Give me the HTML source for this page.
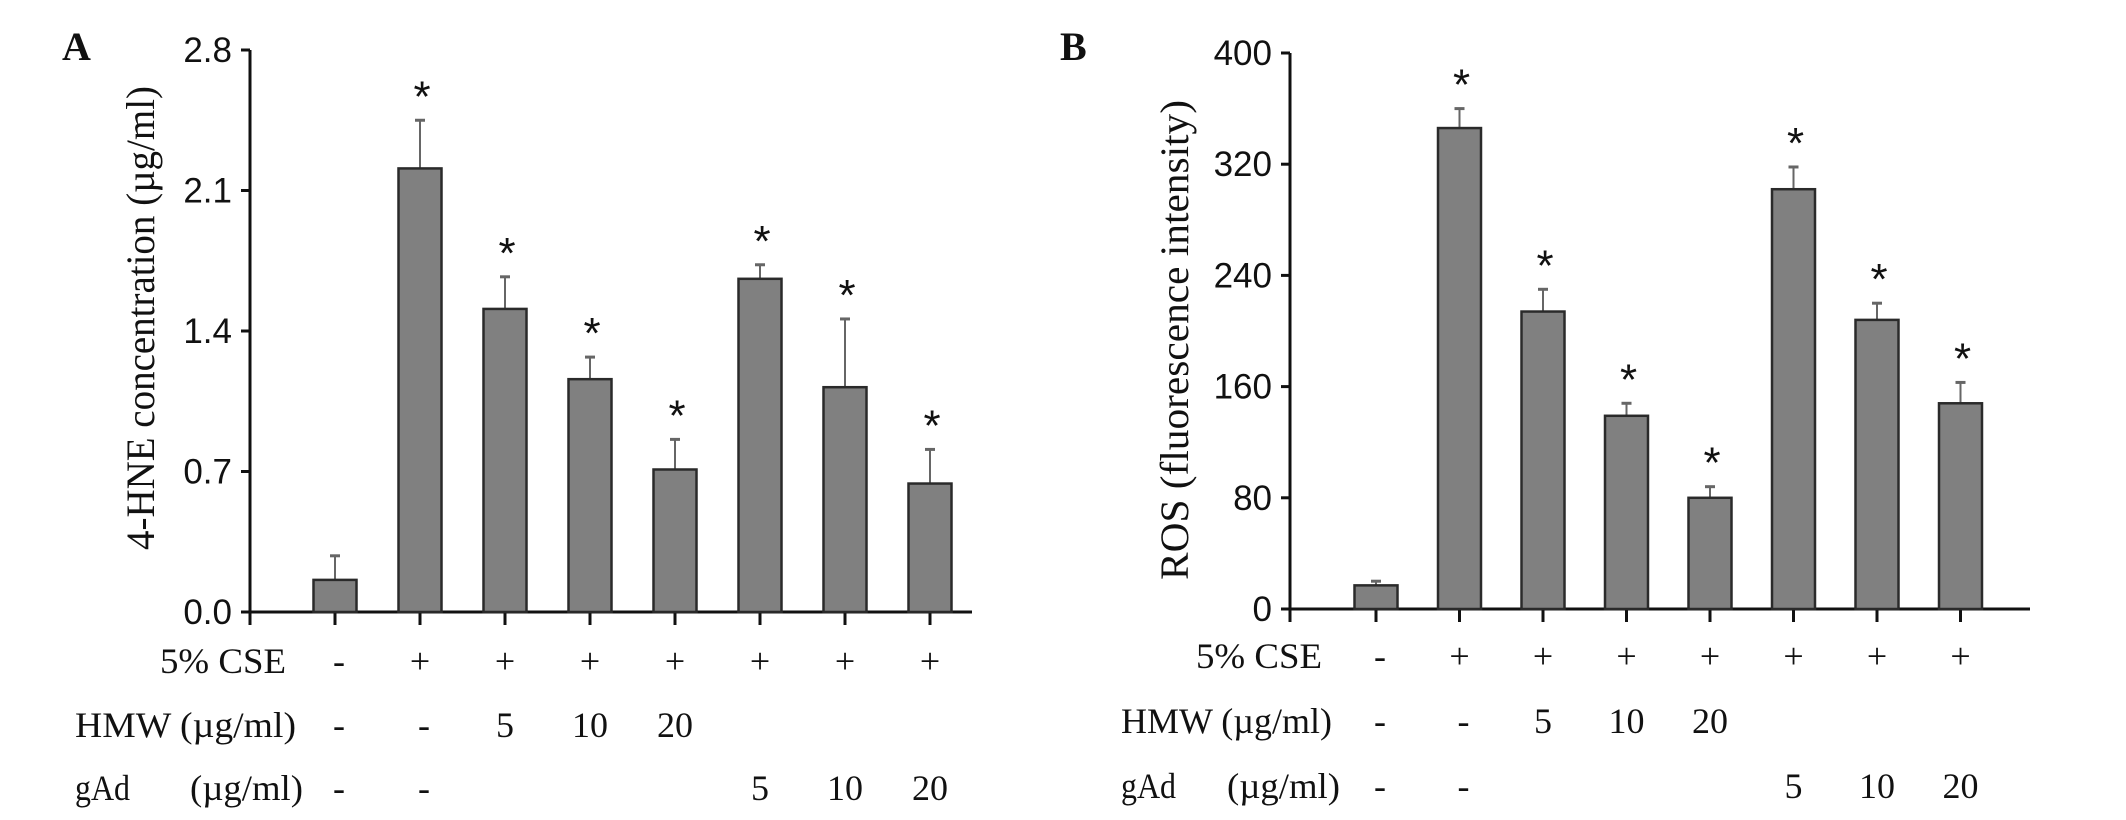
<!DOCTYPE html>
<html><head><meta charset="utf-8">
<style>
html,body{margin:0;padding:0;background:#fff;}
svg{display:block;}
.serif{font-family:"Liberation Serif",serif;fill:#111;}
.sans{font-family:"Liberation Sans",sans-serif;fill:#111;}
</style></head>
<body>
<svg id="chart" width="2126" height="820" viewBox="0 0 2126 820" xmlns="http://www.w3.org/2000/svg">
<rect width="2126" height="820" fill="#fff"/>
</svg>
<script>
const categories = ["control","CSE","CSE+HMW5","CSE+HMW10","CSE+HMW20","CSE+gAd5","CSE+gAd10","CSE+gAd20"];
const valuesA = [0.16, 2.21, 1.51, 1.16, 0.71, 1.66, 1.12, 0.64];
const errTopA = [0.28, 2.45, 1.67, 1.27, 0.86, 1.73, 1.46, 0.81];
const valuesB = [17, 346, 214, 139, 80, 302, 208, 148];
const errTopB = [20, 360, 230, 148, 88, 318, 220, 163];
const sigFlags = [false, true, true, true, true, true, true, true];
const ticksA = [0.0, 0.7, 1.4, 2.1, 2.8];
const tickLabelsA = ["0.0","0.7","1.4","2.1","2.8"];
const ticksB = [0, 80, 160, 240, 320, 400];
const tickLabelsB = ["0","80","160","240","320","400"];
const cseRow = ["-","+","+","+","+","+","+","+"];
const hmwRow = ["-","-","5","10","20","","",""];
const gadRow = ["-","-","","","","5","10","20"];

const NS="http://www.w3.org/2000/svg";
const svg=document.getElementById('chart');
function mk(tag,attrs,parent,text){const e=document.createElementNS(NS,tag);for(const k in attrs)e.setAttribute(k,attrs[k]);if(text!==undefined)e.textContent=text;(parent||svg).appendChild(e);return e;}

function panel(cfg){
  const g=mk('g',{});
  
  
  const y=v=>cfg.y0-(v-cfg.min)/(cfg.max-cfg.min)*(cfg.y0-cfg.yTop);
  const x=i=>cfg.x1+i*cfg.step;
  const ax=mk('line',{x1:cfg.ax,y1:cfg.yTop,x2:cfg.ax,y2:cfg.y0+13,stroke:'#111','stroke-width':3},g);
  
  
  const bl=mk('line',{x1:cfg.ax-8,y1:cfg.y0,x2:cfg.xEnd,y2:cfg.y0,stroke:'#111','stroke-width':3},g);
  
  
  cfg.ticks.forEach((t,i)=>{
    const tk=mk('line',{x1:cfg.ax-9,y1:y(t),x2:cfg.ax,y2:y(t),stroke:'#111','stroke-width':3},g);
    
    
    const tl=mk('text',{x:cfg.ax-18,y:y(t)+12,'text-anchor':'end','font-size':35,class:'sans'},g,cfg.labels[i]);
    
    
  });
  cfg.vals.forEach((v,i)=>{
    const cx=x(i), w=43;
    const xt=mk('line',{x1:cx,y1:cfg.y0,x2:cx,y2:cfg.y0+13,stroke:'#111','stroke-width':3},g);
    
    
    const et=mk('line',{x1:cx,y1:y(cfg.err[i]),x2:cx,y2:y(v),stroke:'#666','stroke-width':2},g);
    
    
    const cap=mk('line',{x1:cx-5,y1:y(cfg.err[i]),x2:cx+5,y2:y(cfg.err[i]),stroke:'#666','stroke-width':3},g);
    
    
    const b=mk('rect',{x:cx-w/2,y:y(v),width:w,height:y(cfg.min)-y(v),fill:'#808080',stroke:'#2a2a2a','stroke-width':2.5},g);
    
    
    if(sigFlags[i]){
      const s=mk('text',{x:cx+2,y:y(cfg.err[i])-9,'text-anchor':'middle','font-size':44,class:'sans'},g,'*');
      
      
    }
  });
  const tt=mk('text',{x:0,y:0,'text-anchor':'middle','font-size':40,class:'serif',textLength:cfg.titleLen,lengthAdjust:'spacingAndGlyphs',transform:`translate(${cfg.titleX},${cfg.titleY}) rotate(-90)`},g,cfg.title);
  
  
  const pl=mk('text',{x:cfg.letterX,y:60,'font-size':40,'font-weight':'bold',class:'serif'},g,cfg.letter);
  
  
  const rowsData=[cseRow,hmwRow,gadRow];
  const names=['cse-row-label','hmw-row-label','gad-row-label'];
  cfg.rowLabels.forEach((lb,ri)=>{
    const ry=cfg.rowY[ri];
    lb.forEach(part=>{
      const lab=mk('text',{x:part[1],y:ry,'font-size':36,class:'serif',textLength:part[2],lengthAdjust:'spacingAndGlyphs'},g,part[0]);
      
      
    });
    rowsData[ri].forEach((s,i)=>{
      if(!s)return;
      const c=mk('text',{x:x(i)+(s==='-'?4:0),y:ry,'text-anchor':'middle','font-size':36,class:'serif'},g,s);
      
      
    });
  });
}

panel({name:'panel-a',letter:'A',letterX:62,min:0,max:2.8,y0:612,yTop:50,ax:250,xEnd:972,x1:335,step:85,
  vals:valuesA,err:errTopA,ticks:ticksA,labels:tickLabelsA,title:'4-HNE concentration (\u00b5g/ml)',titleX:154,titleY:318,titleLen:464,
  rowLabels:[[['5% CSE',160,126]],[['HMW (\u00b5g/ml)',75,221]],[['gAd',75,55],['(\u00b5g/ml)',190,113]]],rowY:[673,737,800]});
panel({name:'panel-b',letter:'B',letterX:1060,min:0,max:400,y0:609,yTop:53,ax:1290,xEnd:2030,x1:1376,step:83.5,
  vals:valuesB,err:errTopB,ticks:ticksB,labels:tickLabelsB,title:'ROS (fluorescence intensity)',titleX:1188,titleY:340,titleLen:480,
  rowLabels:[[['5% CSE',1196,126]],[['HMW (\u00b5g/ml)',1121,211]],[['gAd',1121,55],['(\u00b5g/ml)',1227,113]]],rowY:[668,733,798]});
</script>
</body></html>
